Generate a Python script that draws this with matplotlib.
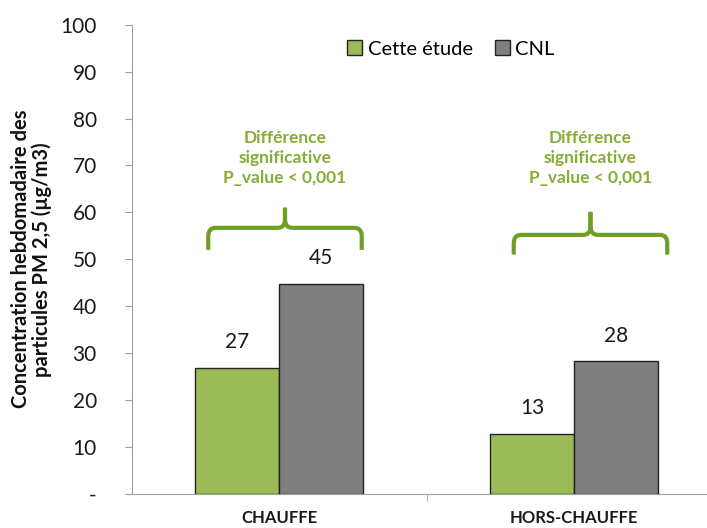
import matplotlib.pyplot as plt
import numpy as np
from matplotlib.path import Path
from matplotlib.patches import PathPatch

plt.rcParams['font.family'] = ['Lato', 'DejaVu Sans']

periods = ["CHAUFFE", "HORS-CHAUFFE"]
series_names = ["Cette étude", "CNL"]
cette_etude = [26.9, 12.8]
cnl = [44.8, 28.2]
value_labels = [["27", "13"], ["45", "28"]]
note = "Différence\nsignificative\nP_value < 0,001"
yticks = [0, 10, 20, 30, 40, 50, 60, 70, 80, 90, 100]
ytick_labels = ["-", "10", "20", "30", "40", "50", "60", "70", "80", "90", "100"]

colors = ["#9bbb59", "#7f7f7f"]
green_txt = "#86ad35"
green_brace = "#6f9f22"

fig = plt.figure(figsize=(7.07, 5.28), dpi=100)
ax = fig.add_axes([0.186, 0.065, 0.835, 0.888])

x = np.arange(len(periods))
w = 0.285
for i, vals in enumerate([cette_etude, cnl]):
    pos = x + (i - 0.5) * w
    ax.bar(pos, vals, w, color=colors[i], edgecolor="#222222", linewidth=1.0,
           label=series_names[i], zorder=3)
    for p, v, lab in zip(pos, vals, value_labels[i]):
        ax.text(p, v + 5.4, lab, ha="center", va="center", fontsize=15, color="#1a1a1a")

ax.set_xlim(-0.5, 1.5)
ax.set_ylim(0, 100)
ax.set_yticks(yticks)
ax.set_yticklabels(ytick_labels, fontsize=15, color="#1a1a1a")
ax.set_xticks(x)
ax.set_xticklabels(periods, fontsize=12, fontweight="bold", color="#1a1a1a")
ax.tick_params(axis="x", length=0, pad=12)
ax.set_xticks([0.5], minor=True)
ax.tick_params(axis="x", which="minor", length=5, color="#a0a0a0")
ax.tick_params(axis="y", length=5, color="#a0a0a0", pad=20)

for s in ["top", "right"]:
    ax.spines[s].set_visible(False)
for s in ["left", "bottom"]:
    ax.spines[s].set_color("#a0a0a0")

ax.set_ylabel("Concentration hebdomadaire des\nparticules PM 2,5 (µg/m3)",
              fontsize=14.5, fontweight="bold", color="#111111", labelpad=6, linespacing=1.05)


def brace(xc, x0, x1, yb, yh, yt):
    r = 0.025
    ry = 1.8
    codes = [Path.MOVETO, Path.LINETO, Path.CURVE3, Path.CURVE3, Path.LINETO,
             Path.CURVE3, Path.CURVE3, Path.LINETO]
    for xe, sgn in ((x0, 1), (x1, -1)):
        verts = [(xe, yb), (xe, yh - ry), (xe, yh), (xe + sgn * r, yh), (xc - sgn * r, yh),
                 (xc, yh), (xc, yh + ry), (xc, yt)]
        ax.add_patch(PathPatch(Path(verts, codes), fill=False, edgecolor=green_brace,
                               linewidth=3, capstyle="butt", zorder=4, clip_on=False))


brace_specs = [(0.02, -0.24, 0.28, 52.0, 56.7, 61.0),
               (1.055, 0.795, 1.315, 51.0, 55.2, 60.1)]
for (xc, x0, x1, yb, yh, yt) in brace_specs:
    brace(xc, x0, x1, yb, yh, yt)
    ax.text(xc, 71.6, note, ha="center", va="center", fontsize=12.5, fontweight="bold",
            color=green_txt, linespacing=1.3)

ax.legend(loc="center left", bbox_to_anchor=(0.335, 0.948), ncol=2, frameon=False,
          fontsize=14.5, handlelength=0.75, handleheight=0.75, handletextpad=0.25,
          columnspacing=1.1)

fig.savefig("out.png", dpi=100)
